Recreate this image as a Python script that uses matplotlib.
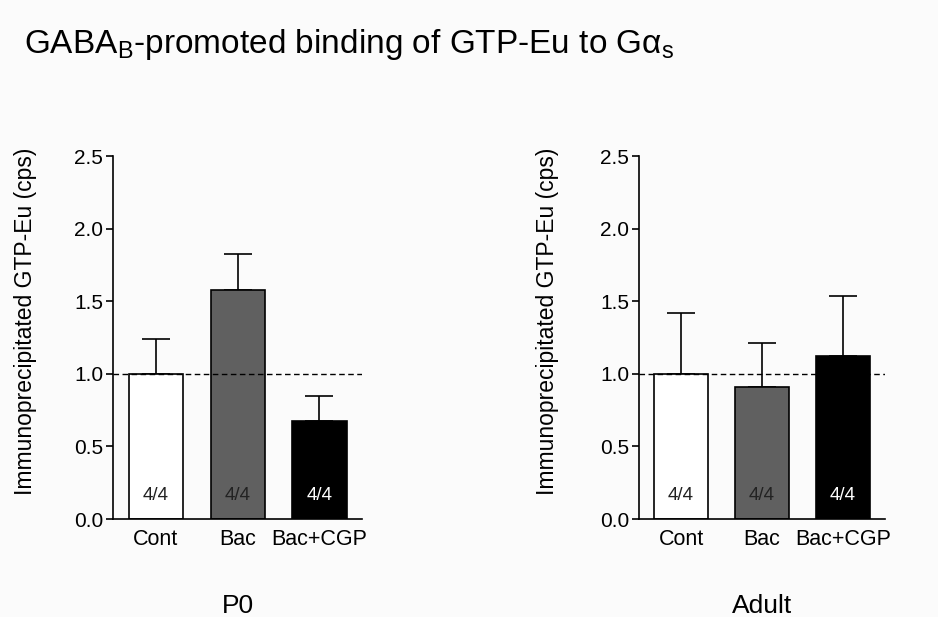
import numpy as np
import matplotlib.pyplot as plt

plt.rcParams['font.family'] = ['Liberation Sans', 'DejaVu Sans']

grupos = ['Cont', 'Bac', 'Bac+CGP']
colores = ['white', '#606060', 'black']
color_n = ['#222222', '#222222', 'white']
n_texto = ['4/4', '4/4', '4/4']

p0_media = [1.0, 1.575, 0.677]
p0_error = [0.237, 0.248, 0.170]
adulto_media = [1.0, 0.911, 1.123]
adulto_error = [0.421, 0.299, 0.413]

fondo = '#fbfbfb'
fig = plt.figure(figsize=(9.38, 6.17), dpi=100, facecolor=fondo)

def panel(ax, medias, errores, nombre, pos_label):
   x = np.arange(len(grupos))
   ax.set_facecolor(fondo)
   ax.bar(x, medias, width=0.66, color=colores, edgecolor='black', linewidth=1.2, zorder=2)
   ax.errorbar(x, medias, yerr=[np.zeros(len(errores)), errores], fmt='none',
               ecolor='black', elinewidth=1.2, capsize=10, capthick=1.2, zorder=1)
   ax.axhline(1.0, color='black', linestyle='--', linewidth=1.0, dashes=(4, 2.5), zorder=3)
   for i in range(len(grupos)):
      ax.text(x[i], 0.165, n_texto[i], ha='center', va='center', fontsize=13.5, color=color_n[i], zorder=4)
   ax.set_xlim(-0.52, 2.52)
   ax.set_ylim(0, 2.5)
   ax.set_yticks([0.0, 0.5, 1.0, 1.5, 2.0, 2.5])
   ax.set_yticklabels(['0.0', '0.5', '1.0', '1.5', '2.0', '2.5'])
   ax.set_xticks(x)
   ax.set_xticklabels(grupos)
   ax.tick_params(axis='x', length=0, pad=7, labelsize=15.5)
   ax.tick_params(axis='y', length=5, width=1.2, pad=2, labelsize=15)
   ax.spines['top'].set_visible(False)
   ax.spines['right'].set_visible(False)
   ax.spines['left'].set_linewidth(1.2)
   ax.spines['bottom'].set_linewidth(1.2)
   ax.set_ylabel('Immunoprecipitated GTP-Eu (cps)', fontsize=16.5)
   ax.yaxis.set_label_coords(pos_label, 0.545)
   ax.text(0.5, -0.24, nombre, transform=ax.transAxes, ha='center', va='center', fontsize=19)

ax1 = fig.add_axes([0.1205, 0.1588, 0.2655, 0.5883])
panel(ax1, p0_media, p0_error, 'P0', -0.305)
ax2 = fig.add_axes([0.6812, 0.1588, 0.2623, 0.5883])
panel(ax2, adulto_media, adulto_error, 'Adult', -0.325)

fig.text(0.026, 0.928, r'GABA$_\mathregular{B}$-promoted binding of GTP-Eu to G$\mathregular{\alpha}_\mathregular{s}$',
         fontsize=24, ha='left', va='center')

fig.savefig('out.png', dpi=100, facecolor=fondo)
